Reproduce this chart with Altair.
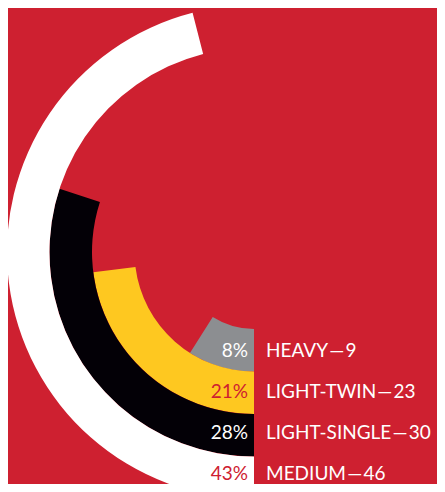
import altair as alt
import pandas as pd

categories = ["HEAVY", "LIGHT-TWIN", "LIGHT-SINGLE", "MEDIUM"]
counts = [9, 23, 30, 46]
percents = [8, 21, 28, 43]
ring_colors = ["#8c8e91", "#fec820", "#030006", "#ffffff"]
pct_colors = ["#ffffff", "#ce2030", "#ffffff", "#ce2030"]

BG = "#ce2030"
CX, CY = 246, 244
FONT = "Lato"

df = pd.DataFrame({
    "category": categories,
    "count": counts,
    "pct": percents,
    "idx": list(range(len(categories))),
    "pct_color": pct_colors,
})

base = alt.Chart(df).transform_calculate(
    zero="0",
    r1="datum.idx + 1",
    mid="datum.idx + 0.5",
    pct_label="datum.pct + '%'",
    name_label="datum.category + '\u200a\u2014\u200a' + datum.count",
)

theta_scale = alt.Scale(domain=[0, 100], range=[3.141592653589793, 3 * 3.141592653589793])
radius_scale = alt.Scale(type="linear", domain=[0, 4], range=[77, 247], zero=False)
y_scale = alt.Scale(domain=[0, 4], range=[CY + 78, CY + 242], zero=False, nice=False)

arcs = base.mark_arc(stroke=None).encode(
    x=alt.value(CX),
    y=alt.value(CY),
    theta=alt.Theta("zero:Q", scale=theta_scale, stack=None),
    theta2=alt.Theta2("count:Q"),
    radius=alt.Radius("idx:Q", scale=radius_scale),
    radius2=alt.Radius2("r1:Q"),
    color=alt.Color("category:N", scale=alt.Scale(domain=categories, range=ring_colors), legend=None),
)

pct_text = base.mark_text(
    align="right", baseline="middle", font=FONT, fontSize=19, fontWeight="normal"
).encode(
    x=alt.value(CX - 6),
    y=alt.Y("mid:Q", scale=y_scale, axis=None),
    text="pct_label:N",
    color=alt.Color("pct_color:N", scale=None),
)

name_text = base.mark_text(
    align="left", baseline="middle", font=FONT, fontSize=19, fontWeight="normal", color="#ffffff"
).encode(
    x=alt.value(CX + 12),
    y=alt.Y("mid:Q", scale=y_scale, axis=None),
    text="name_label:N",
)

chart = alt.layer(arcs, pct_text, name_text).properties(
    width=429,
    height=476,
    autosize=alt.AutoSizeParams(type="none"),
    padding=0,
    background=BG,
).configure_view(stroke=None)

chart.save("out.html", embed_options={"renderer": "svg", "actions": False})
